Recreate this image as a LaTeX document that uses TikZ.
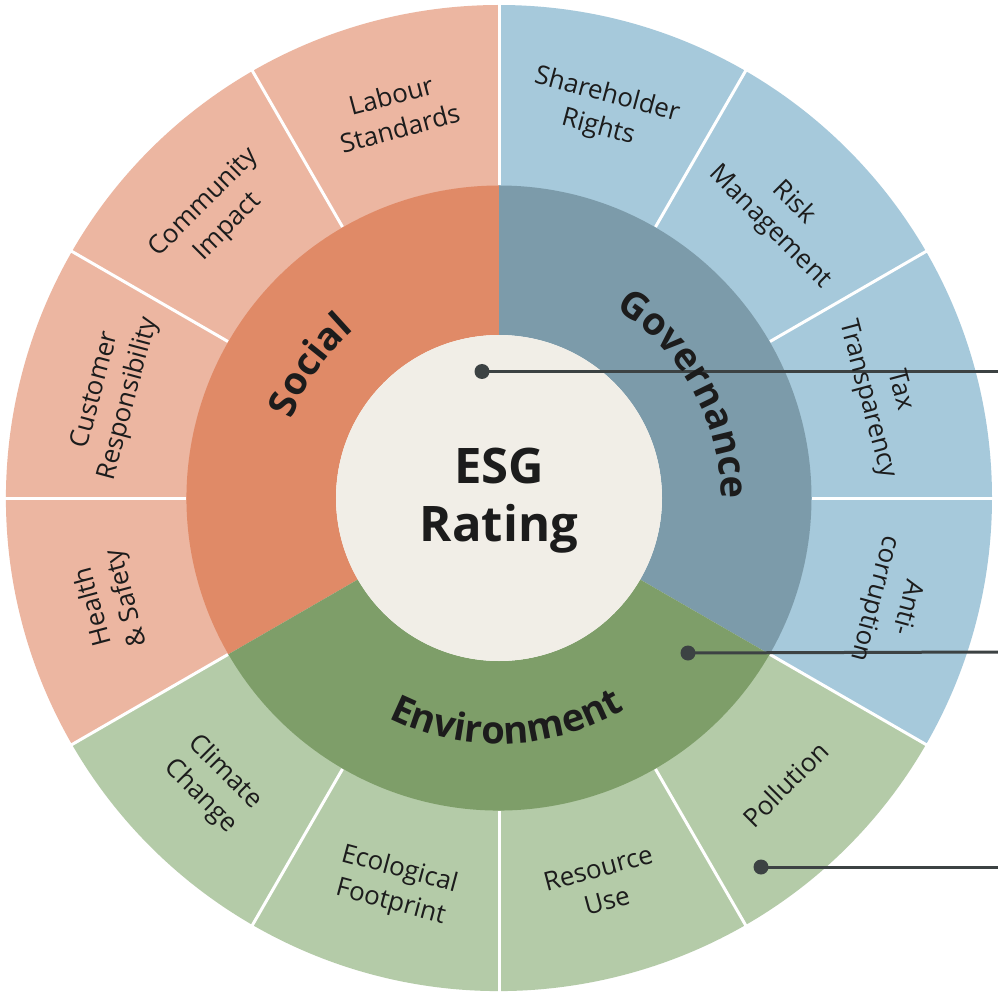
\documentclass[tikz,border=0pt]{standalone}
\usepackage{fontspec}
\setmainfont{Open Sans}
\usetikzlibrary{decorations.text}
\definecolor{socO}{HTML}{ECB6A1}
\definecolor{socI}{HTML}{E08A67}
\definecolor{govO}{HTML}{A6C9DB}
\definecolor{govI}{HTML}{7C9BAA}
\definecolor{envO}{HTML}{B4CBA8}
\definecolor{envI}{HTML}{7E9E69}
\definecolor{core}{HTML}{F1EEE7}
\definecolor{ink}{HTML}{1C1C1C}
\definecolor{wire}{HTML}{3C4243}
\newcommand\ringsector[5]{\fill[#1] (#2:#4) arc[start angle=#2, end angle=#3, radius=#4] -- (#3:#5) arc[start angle=#3, end angle=#2, radius=#5] -- cycle;}
\newcommand\ringfont{\bfseries\fontsize{38}{46}\selectfont}
\tikzset{
  outerlbl/.style={font=\fontsize{26}{34}\selectfont, text=ink, align=center, inner sep=0pt},
  dotnode/.style={circle, fill=wire, minimum size=15pt, inner sep=0pt},
  wireline/.style={draw=wire, line width=3pt},
  seplines/.style={draw=white, line width=3pt},
  ringtext/.style={decorate, decoration={text along path, text align=center, text color=ink, text={|\ringfont|#1}}}
}
\begin{document}
\begin{tikzpicture}[x=1pt,y=1pt]
\useasboundingbox (-499,-498) rectangle (499,498);
\fill[white] (-499,-498) rectangle (499,498);
% outer ring
\ringsector{socO}{90}{210}{312}{493}
\ringsector{govO}{-30}{90}{312}{493}
\ringsector{envO}{210}{330}{312}{493}
% inner ring
\ringsector{socI}{90}{210}{163}{312.5}
\ringsector{govI}{-30}{90}{163}{312.5}
\ringsector{envI}{210}{330}{163}{312.5}
% separators
\foreach \a in {0,30,...,330} {\draw[seplines] (\a:313) -- (\a:496);}
% core
\fill[core] (0,0) circle[radius=163];
\node[font=\bfseries\fontsize{49}{58}\selectfont, align=center, text=ink, inner sep=0pt] (esg) at (0,-3) {ESG\\Rating};
% connectors
\node[dotnode] (d1) at (-17,126.5) {};
\node[dotnode] (d2) at (189,-155) {};
\node[dotnode] (d3) at (262,-369) {};
\coordinate (e1) at (499,126.5);
\coordinate (e2) at (499,-154);
\coordinate (e3) at (499,-369);
\draw[wireline] (d1.center) -- (e1);
\draw[wireline] (d2.center) -- (e2);
\draw[wireline] (d3.center) -- (e3);
% ring labels
\path[ringtext=Governance] (89:222) arc[start angle=89, end angle=-31, radius=222];
\path[ringtext=Social] (205:222) arc[start angle=205, end angle=85, radius=222];
\path[ringtext=Environment] (212:246) arc[start angle=212, end angle=332, radius=246];
% outer labels
\node[outerlbl, rotate=15]   (lab) at (105:400) {Labour\\Standards};
\node[outerlbl, rotate=45]   (com) at (135:400) {Community\\Impact};
\node[outerlbl, rotate=75]   (cus) at (165:400) {Customer\\Responsibility};
\node[outerlbl, rotate=105]  (hea) at (195:402) {Health\\\& Safety};
\node[outerlbl, rotate=-15]  (sha) at (75:400) {Shareholder\\Rights};
\node[outerlbl, rotate=-45]  (ris) at (45:400) {Risk\\Management};
\node[outerlbl, rotate=-75]  (tax) at (15:398) {Tax\\Transparency};
\node[outerlbl, rotate=-105] (ant) at (-15:405) {Anti-\\corruption};
\node[outerlbl, rotate=45]   (pol) at (-45:405) {Pollution};
\node[outerlbl, rotate=15]   (res) at (-75:400) {Resource\\Use};
\node[outerlbl, rotate=-15]  (eco) at (255:402) {Ecological\\Footprint};
\node[outerlbl, rotate=-45]  (cli) at (225:405) {Climate\\Change};
\end{tikzpicture}
\end{document}
